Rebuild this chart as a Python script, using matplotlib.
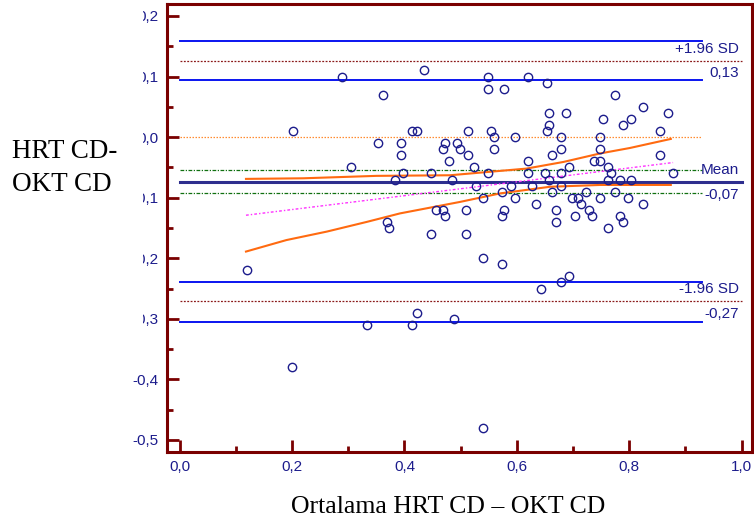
import matplotlib
matplotlib.use("Agg")
import matplotlib.pyplot as plt
from matplotlib.patches import Rectangle
from matplotlib.ticker import MultipleLocator, FuncFormatter

# ---- data: mean of methods (x) and difference (y) ----
avg_hrt_okt = [0.288, 0.362, 0.202, 0.413, 0.422, 0.353, 0.393, 0.393, 0.304, 0.398,
               0.384, 0.434, 0.548, 0.619, 0.548, 0.578, 0.654, 0.658, 0.658, 0.654,
               0.513, 0.554, 0.559, 0.597, 0.473, 0.494, 0.469, 0.498, 0.559, 0.513,
               0.479, 0.663, 0.619, 0.524, 0.448, 0.548, 0.619, 0.650, 0.658, 0.484,
               0.528, 0.589, 0.627, 0.574, 0.539, 0.597, 0.663, 0.774, 0.824, 0.869,
               0.687, 0.753, 0.804, 0.789, 0.854, 0.679, 0.748, 0.679, 0.748, 0.854,
               0.738, 0.748, 0.693, 0.763, 0.679, 0.768, 0.878, 0.763, 0.784, 0.804,
               0.679, 0.774, 0.723, 0.699, 0.709, 0.748, 0.798,
               0.369, 0.373, 0.457, 0.468, 0.473, 0.509, 0.448, 0.509, 0.539, 0.574,
               0.578, 0.574, 0.634, 0.669, 0.729, 0.669, 0.703, 0.733, 0.784, 0.789,
               0.763, 0.824, 0.714, 0.693, 0.679, 0.643, 0.119, 0.333, 0.414, 0.423,
               0.488, 0.199, 0.539]
diff_hrt_okt = [0.10, 0.07, 0.01, 0.01, 0.01, -0.01, -0.01, -0.03, -0.05, -0.06,
                -0.07, 0.11, 0.10, 0.10, 0.08, 0.08, 0.09, 0.04, 0.02, 0.01,
                0.01, 0.01, 0.00, 0.00, -0.01, -0.01, -0.02, -0.02, -0.02, -0.03,
                -0.04, -0.03, -0.04, -0.05, -0.06, -0.06, -0.06, -0.06, -0.07, -0.07,
                -0.08, -0.08, -0.08, -0.09, -0.10, -0.10, -0.09, 0.07, 0.05, 0.04,
                0.04, 0.03, 0.03, 0.02, 0.01, 0.00, 0.00, -0.02, -0.02, -0.03,
                -0.04, -0.04, -0.05, -0.05, -0.06, -0.06, -0.06, -0.07, -0.07, -0.07,
                -0.08, -0.09, -0.09, -0.10, -0.10, -0.10, -0.10,
                -0.14, -0.15, -0.12, -0.12, -0.13, -0.12, -0.16, -0.16, -0.20, -0.21,
                -0.12, -0.13, -0.11, -0.12, -0.12, -0.14, -0.13, -0.13, -0.13, -0.14,
                -0.15, -0.11, -0.11, -0.23, -0.24, -0.25, -0.22, -0.31, -0.31, -0.29,
                -0.30, -0.38, -0.48]

# Bland-Altman statistics
mean_diff = -0.0735
mean_ci = [-0.0543, -0.0922]
upper_loa = 0.1257
upper_ci = [0.1587, 0.0938]
lower_loa = -0.2705
lower_ci = [-0.2387, -0.3047]

# regression line of differences and its confidence band
reg_x = [0.118, 0.878]
reg_y = [-0.129, -0.042]
ci_up_x = [0.118, 0.220, 0.350, 0.481, 0.617, 0.683, 0.748, 0.801, 0.874]
ci_up_y = [-0.069, -0.068, -0.064, -0.063, -0.052, -0.041, -0.027, -0.018, -0.003]
ci_lo_x = [0.118, 0.190, 0.262, 0.333, 0.392, 0.499, 0.570, 0.659, 0.748, 0.874]
ci_lo_y = [-0.189, -0.170, -0.156, -0.140, -0.126, -0.107, -0.093, -0.082, -0.079, -0.079]

x_ticks = [0.0, 0.2, 0.4, 0.6, 0.8, 1.0]
y_ticks = [0.2, 0.1, 0.0, -0.1, -0.2, -0.3, -0.4, -0.5]

NAVY = "#1c1c8c"
SPINE = "#7a0000"
BLUE = "#0a14f0"

fig = plt.figure(figsize=(7.54, 5.27), dpi=100)
ax = fig.add_axes([0.2219, 0.1423, 0.997 - 0.2219, 0.9924 - 0.1423])

ax.set_xlim(-0.022, 1.018)
ax.set_ylim(-0.52, 0.2198)

# reference lines
ax.plot([0, 0.929], [upper_ci[0]] * 2, color=BLUE, lw=1.4, zorder=2)
ax.plot([0, 0.929], [upper_ci[1]] * 2, color=BLUE, lw=1.4, zorder=2)
ax.plot([0, 1.0], [upper_loa] * 2, color="#8b1a1a", lw=0.9, ls=(0, (1.5, 1.2)), zorder=2)
ax.plot([0, 0.929], [0.0, 0.0], color="#ff8c30", lw=0.9, ls=(0, (1.2, 1.2)), zorder=2)
ax.plot([0, 0.929], [mean_ci[0]] * 2, color="#107010", lw=0.9, ls=(0, (3, 1.2, 1, 1.2)), zorder=2)
ax.plot([0, 0.929], [mean_ci[1]] * 2, color="#107010", lw=0.9, ls=(0, (3, 1.2, 1, 1.2)), zorder=2)
ax.plot([0, 1.0], [mean_diff] * 2, color="#2e2e8e", lw=2.2, zorder=2)
ax.plot([0, 0.929], [lower_ci[0]] * 2, color=BLUE, lw=1.4, zorder=2)
ax.plot([0, 0.929], [lower_ci[1]] * 2, color=BLUE, lw=1.4, zorder=2)
ax.plot([0, 1.0], [lower_loa] * 2, color="#8b1a1a", lw=0.9, ls=(0, (1.5, 1.2)), zorder=2)

# regression and its confidence band
ax.plot(reg_x, reg_y, color="#ff30ff", lw=1.0, ls=(0, (2, 1.5, 1, 1.5)), zorder=2)
ax.plot(ci_up_x, ci_up_y, color="#ff6a10", lw=1.5, zorder=2)
ax.plot(ci_lo_x, ci_lo_y, color="#ff6a10", lw=1.5, zorder=2)

# points
ax.plot(avg_hrt_okt, diff_hrt_okt, ls="none", marker="o", ms=6, mfc="none",
        mec=NAVY, mew=1.0, zorder=3)

# right-side labels
lab_kw = dict(ha="right", va="center", color=NAVY, fontsize=11,
              family="Liberation Sans")
ax.text(0.995, 0.1455, "+1.96 SD", **lab_kw)
ax.text(0.995, 0.1064, "0,13", **lab_kw)
ax.text(0.995, -0.0543, "Mean", **lab_kw)
ax.text(0.995, -0.0955, "-0,07", **lab_kw)
ax.text(0.995, -0.251, "-1.96 SD", **lab_kw)
ax.text(0.995, -0.2925, "-0,27", **lab_kw)

# axes styling
for s in ax.spines.values():
    s.set_color(SPINE)
    s.set_linewidth(2.2)

fmt = FuncFormatter(lambda v, p: (f"{v:.1f}".replace(".", ",")).replace("-0,0", "0,0"))
ax.set_xticks(x_ticks)
ax.set_yticks(y_ticks)
ax.xaxis.set_major_formatter(fmt)
ax.yaxis.set_major_formatter(fmt)
ax.xaxis.set_minor_locator(MultipleLocator(0.1))
ax.yaxis.set_minor_locator(MultipleLocator(0.05))
ax.tick_params(which="both", direction="in", color=SPINE, width=2.0,
               labelcolor=NAVY, labelsize=11, top=False, right=False)
ax.tick_params(which="major", length=8.5, pad=6)
ax.tick_params(which="minor", length=4.3)
for t in ax.get_xticklabels() + ax.get_yticklabels():
    t.set_family("Liberation Sans")

# white box covering the left edge (as in the reference) with the y label on it
fig.add_artist(Rectangle((0, (527 - 345) / 527), 143 / 754, 345 / 527,
                         transform=fig.transFigure, facecolor="white",
                         edgecolor="none", zorder=5))
fig.text(12 / 754, 1 - 168 / 527, "HRT CD-\nOKT CD", ha="left", va="center",
         fontsize=19.5, family="Liberation Serif", linespacing=1.45, zorder=6)
fig.text(448 / 754, 1 - 507 / 527, "Ortalama HRT CD \u2013 OKT CD", ha="center",
         va="center", fontsize=18.5, family="Liberation Serif")

fig.savefig("out.png", dpi=100)
